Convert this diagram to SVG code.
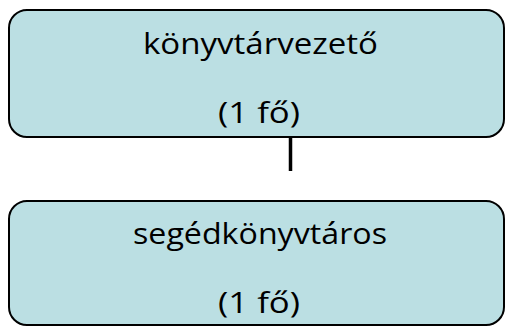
<svg xmlns="http://www.w3.org/2000/svg" width="510" height="327" viewBox="0 0 510 327">
<style>
.box{fill:#BBDFE3;stroke:#000;stroke-width:2}
.t{font-family:"Open Sans","Noto Sans","Liberation Sans",sans-serif;font-size:30px;fill:#000;text-anchor:middle}
.c{stroke:#000;stroke-width:3.5;fill:none}
</style>
<rect width="510" height="327" fill="#fff"/>
<g id="connectors">
<line class="c" x1="290.5" y1="137" x2="290.5" y2="171"/>
</g>
<g id="node1">
<rect class="box" x="9" y="10" width="495" height="127" rx="18" ry="18"/>
<text class="t" x="260.5" y="54" textLength="235" lengthAdjust="spacingAndGlyphs">könyvtárvezető</text>
<text class="t" x="259" y="123" textLength="82" lengthAdjust="spacingAndGlyphs">(1 fő)</text>
</g>
<g id="node2">
<rect class="box" x="9" y="201" width="495" height="124" rx="18" ry="18"/>
<text class="t" x="260" y="244" textLength="254" lengthAdjust="spacingAndGlyphs">segédkönyvtáros</text>
<text class="t" x="259" y="313" textLength="82" lengthAdjust="spacingAndGlyphs">(1 fő)</text>
</g>
</svg>
